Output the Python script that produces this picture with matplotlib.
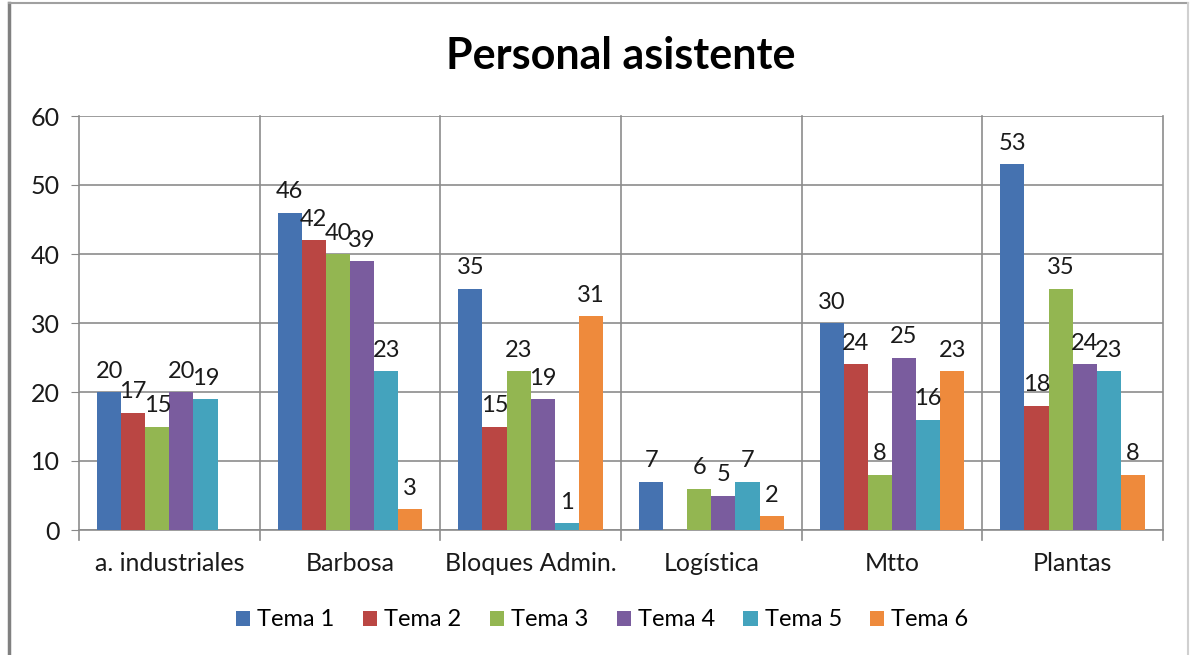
import numpy as np
import matplotlib.pyplot as plt
from matplotlib.lines import Line2D

plt.rcParams['font.family'] = ['Lato', 'DejaVu Sans']

categorias = ["a. industriales", "Barbosa", "Bloques Admin.", "Logística", "Mtto", "Plantas"]
series = ["Tema 1", "Tema 2", "Tema 3", "Tema 4", "Tema 5", "Tema 6"]
tema1 = [20, 46, 35, 7, 30, 53]
tema2 = [17, 42, 15, None, 24, 18]
tema3 = [15, 40, 23, 6, 8, 35]
tema4 = [20, 39, 19, 5, 25, 24]
tema5 = [19, 23, 1, 7, 16, 23]
tema6 = [None, 3, 31, 2, 23, 8]
valores = [tema1, tema2, tema3, tema4, tema5, tema6]
colores = ["#4572B0", "#BA4643", "#93B651", "#7A5C9E", "#44A3BD", "#EE8A3C"]

fig = plt.figure(figsize=(11.93, 6.55), dpi=100)
ax = fig.add_axes([79 / 1193, 1 - 530 / 655, (1163 - 79) / 1193, (530 - 116) / 655])

# borde exterior del gráfico
borde = "#a0a0a0"
fig.add_artist(Line2D([9 / 1193, 9 / 1193], [0, 1 - 3 / 655], color="#808080", lw=2.5, transform=fig.transFigure))
fig.add_artist(Line2D([9 / 1193, 1188 / 1193], [1 - 3 / 655, 1 - 3 / 655], color=borde, lw=1.5, transform=fig.transFigure))
fig.add_artist(Line2D([1188 / 1193, 1188 / 1193], [0, 1 - 3 / 655], color="#d0d0d0", lw=1.5, transform=fig.transFigure))

x = np.arange(len(categorias))
ancho = 0.8 / len(series)
for i, (nombre, vals, col) in enumerate(zip(series, valores, colores)):
    pos = x - 0.4 + ancho * (i + 0.5)
    alturas = [v if v is not None else 0 for v in vals]
    ax.bar(pos, alturas, width=ancho, color=col, label=nombre, zorder=3)
    for p, v in zip(pos, vals):
        if v is None:
            continue
        ax.text(p, v + 1.5, str(v), ha="center", va="bottom", fontsize=17, color="#1a1a1a", zorder=4)

ax.set_xlim(-0.5, len(categorias) - 0.5)
ax.set_ylim(0, 60)
ax.set_yticks(range(0, 61, 10))
ax.set_xticks(x)
ax.set_xticklabels(categorias, fontsize=18, color="#1a1a1a")
ax.tick_params(axis="y", labelsize=18, colors="#1a1a1a", length=6, color="#888888", pad=8)
ax.tick_params(axis="x", length=0, pad=16)

gris = "#8c8c8c"
ax.yaxis.grid(True, color=gris, lw=1.2, zorder=0)
for b in np.arange(-0.5, len(categorias), 1.0):
    ax.plot([b, b], [-0.025, 1], transform=ax.get_xaxis_transform(), color=gris, lw=1.2, clip_on=False, zorder=1)
for s in ["top", "right", "left"]:
    ax.spines[s].set_visible(False)
ax.spines["bottom"].set_color(gris)
ax.spines["bottom"].set_linewidth(1.2)

ax.set_title("Personal asistente", fontsize=31, fontweight="bold", pad=34)

fig.legend(loc="center", bbox_to_anchor=(0.505, 1 - 620 / 655), ncol=6, frameon=False,
           fontsize=17, handlelength=0.6, handleheight=0.6, handletextpad=0.3, columnspacing=1.2)

fig.savefig("out.png", dpi=100)
